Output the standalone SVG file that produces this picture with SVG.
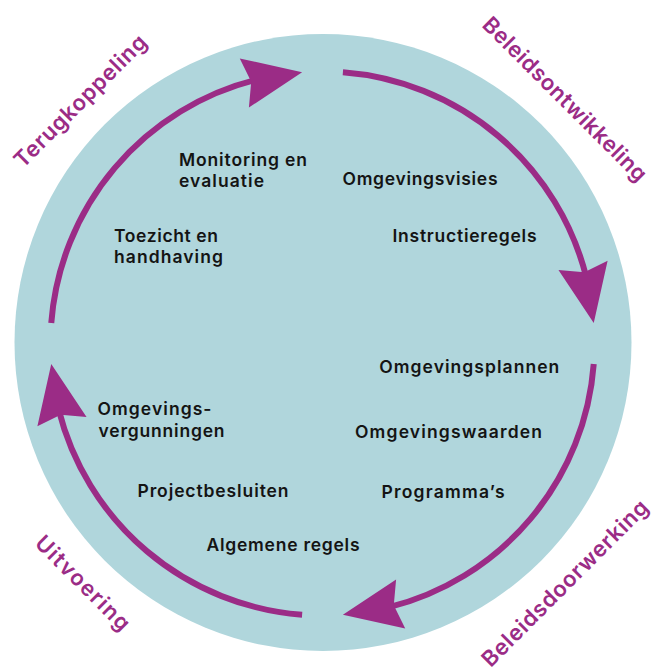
<svg xmlns="http://www.w3.org/2000/svg" xmlns:xlink="http://www.w3.org/1999/xlink" width="654" height="672" viewBox="0 0 654 672">
<style>
.lbl{font-family:Inter,"Liberation Sans",sans-serif;font-weight:600;font-size:17.5px;fill:#141414}
.phase{font-family:Inter,"Liberation Sans",sans-serif;font-weight:600;font-size:22px;fill:#9b2c86}
.arc{fill:none;stroke:#9b2c86;stroke-width:6}
.head{fill:#9b2c86}
</style>
<defs>
<g id="quarter">
<path class="arc" d="M 51.26 323.1 A 272 272 0 0 1 256.7 79.58"/>
<polygon class="head" points="302.11,72.26 248.9,107.55 251.22,81.69 239.78,58.39"/>
</g>
</defs>
<circle id="bg" cx="323" cy="342.5" r="308.5" fill="#b0d6dc"/>
<g id="connectors">
<use xlink:href="#quarter"/>
<use xlink:href="#quarter" transform="rotate(90 322.5 343.5)"/>
<use xlink:href="#quarter" transform="rotate(180 322.5 343.5)"/>
<use xlink:href="#quarter" transform="rotate(270 322.5 343.5)"/>
</g>
<g id="phase-terugkoppeling"><text class="phase" text-anchor="middle" transform="translate(85.6 106.4) rotate(-45)" textLength="177" lengthAdjust="spacing">Terugkoppeling</text></g>
<g id="phase-beleidsontwikkeling"><text class="phase" text-anchor="middle" transform="translate(559.6 104.5) rotate(45)" textLength="222" lengthAdjust="spacing">Beleidsontwikkeling</text></g>
<g id="phase-beleidsdoorwerking"><text class="phase" text-anchor="middle" transform="translate(570.2 588.6) rotate(-45)" textLength="225" lengthAdjust="spacing">Beleidsdoorwerking</text></g>
<g id="phase-uitvoering"><text class="phase" text-anchor="middle" transform="translate(77.5 588.4) rotate(45)" textLength="124" lengthAdjust="spacing">Uitvoering</text></g>
<g id="monitoring"><text class="lbl" x="179" y="166" textLength="128" lengthAdjust="spacing">Monitoring en</text><text class="lbl" x="179" y="187" textLength="85" lengthAdjust="spacing">evaluatie</text></g>
<g id="toezicht"><text class="lbl" x="114" y="242.3" textLength="104" lengthAdjust="spacing">Toezicht en</text><text class="lbl" x="114" y="263.3" textLength="109" lengthAdjust="spacing">handhaving</text></g>
<g id="omgevingsvisies"><text class="lbl" x="342.5" y="185" textLength="155" lengthAdjust="spacing">Omgevingsvisies</text></g>
<g id="instructieregels"><text class="lbl" x="392.5" y="242.3" textLength="144" lengthAdjust="spacing">Instructieregels</text></g>
<g id="omgevingsplannen"><text class="lbl" x="379.3" y="372.7" textLength="180" lengthAdjust="spacing">Omgevingsplannen</text></g>
<g id="omgevingswaarden"><text class="lbl" x="355" y="437.7" textLength="187" lengthAdjust="spacing">Omgevingswaarden</text></g>
<g id="programmas"><text class="lbl" x="381.5" y="497.7" textLength="123" lengthAdjust="spacing">Programma’s</text></g>
<g id="algemene-regels"><text class="lbl" x="206.5" y="551" textLength="153" lengthAdjust="spacing">Algemene regels</text></g>
<g id="omgevingsvergunningen"><text class="lbl" x="97.5" y="415" textLength="114" lengthAdjust="spacing">Omgevings-</text><text class="lbl" x="98.5" y="436.7" textLength="126" lengthAdjust="spacing">vergunningen</text></g>
<g id="projectbesluiten"><text class="lbl" x="137.5" y="496.7" textLength="151" lengthAdjust="spacing">Projectbesluiten</text></g>
</svg>
